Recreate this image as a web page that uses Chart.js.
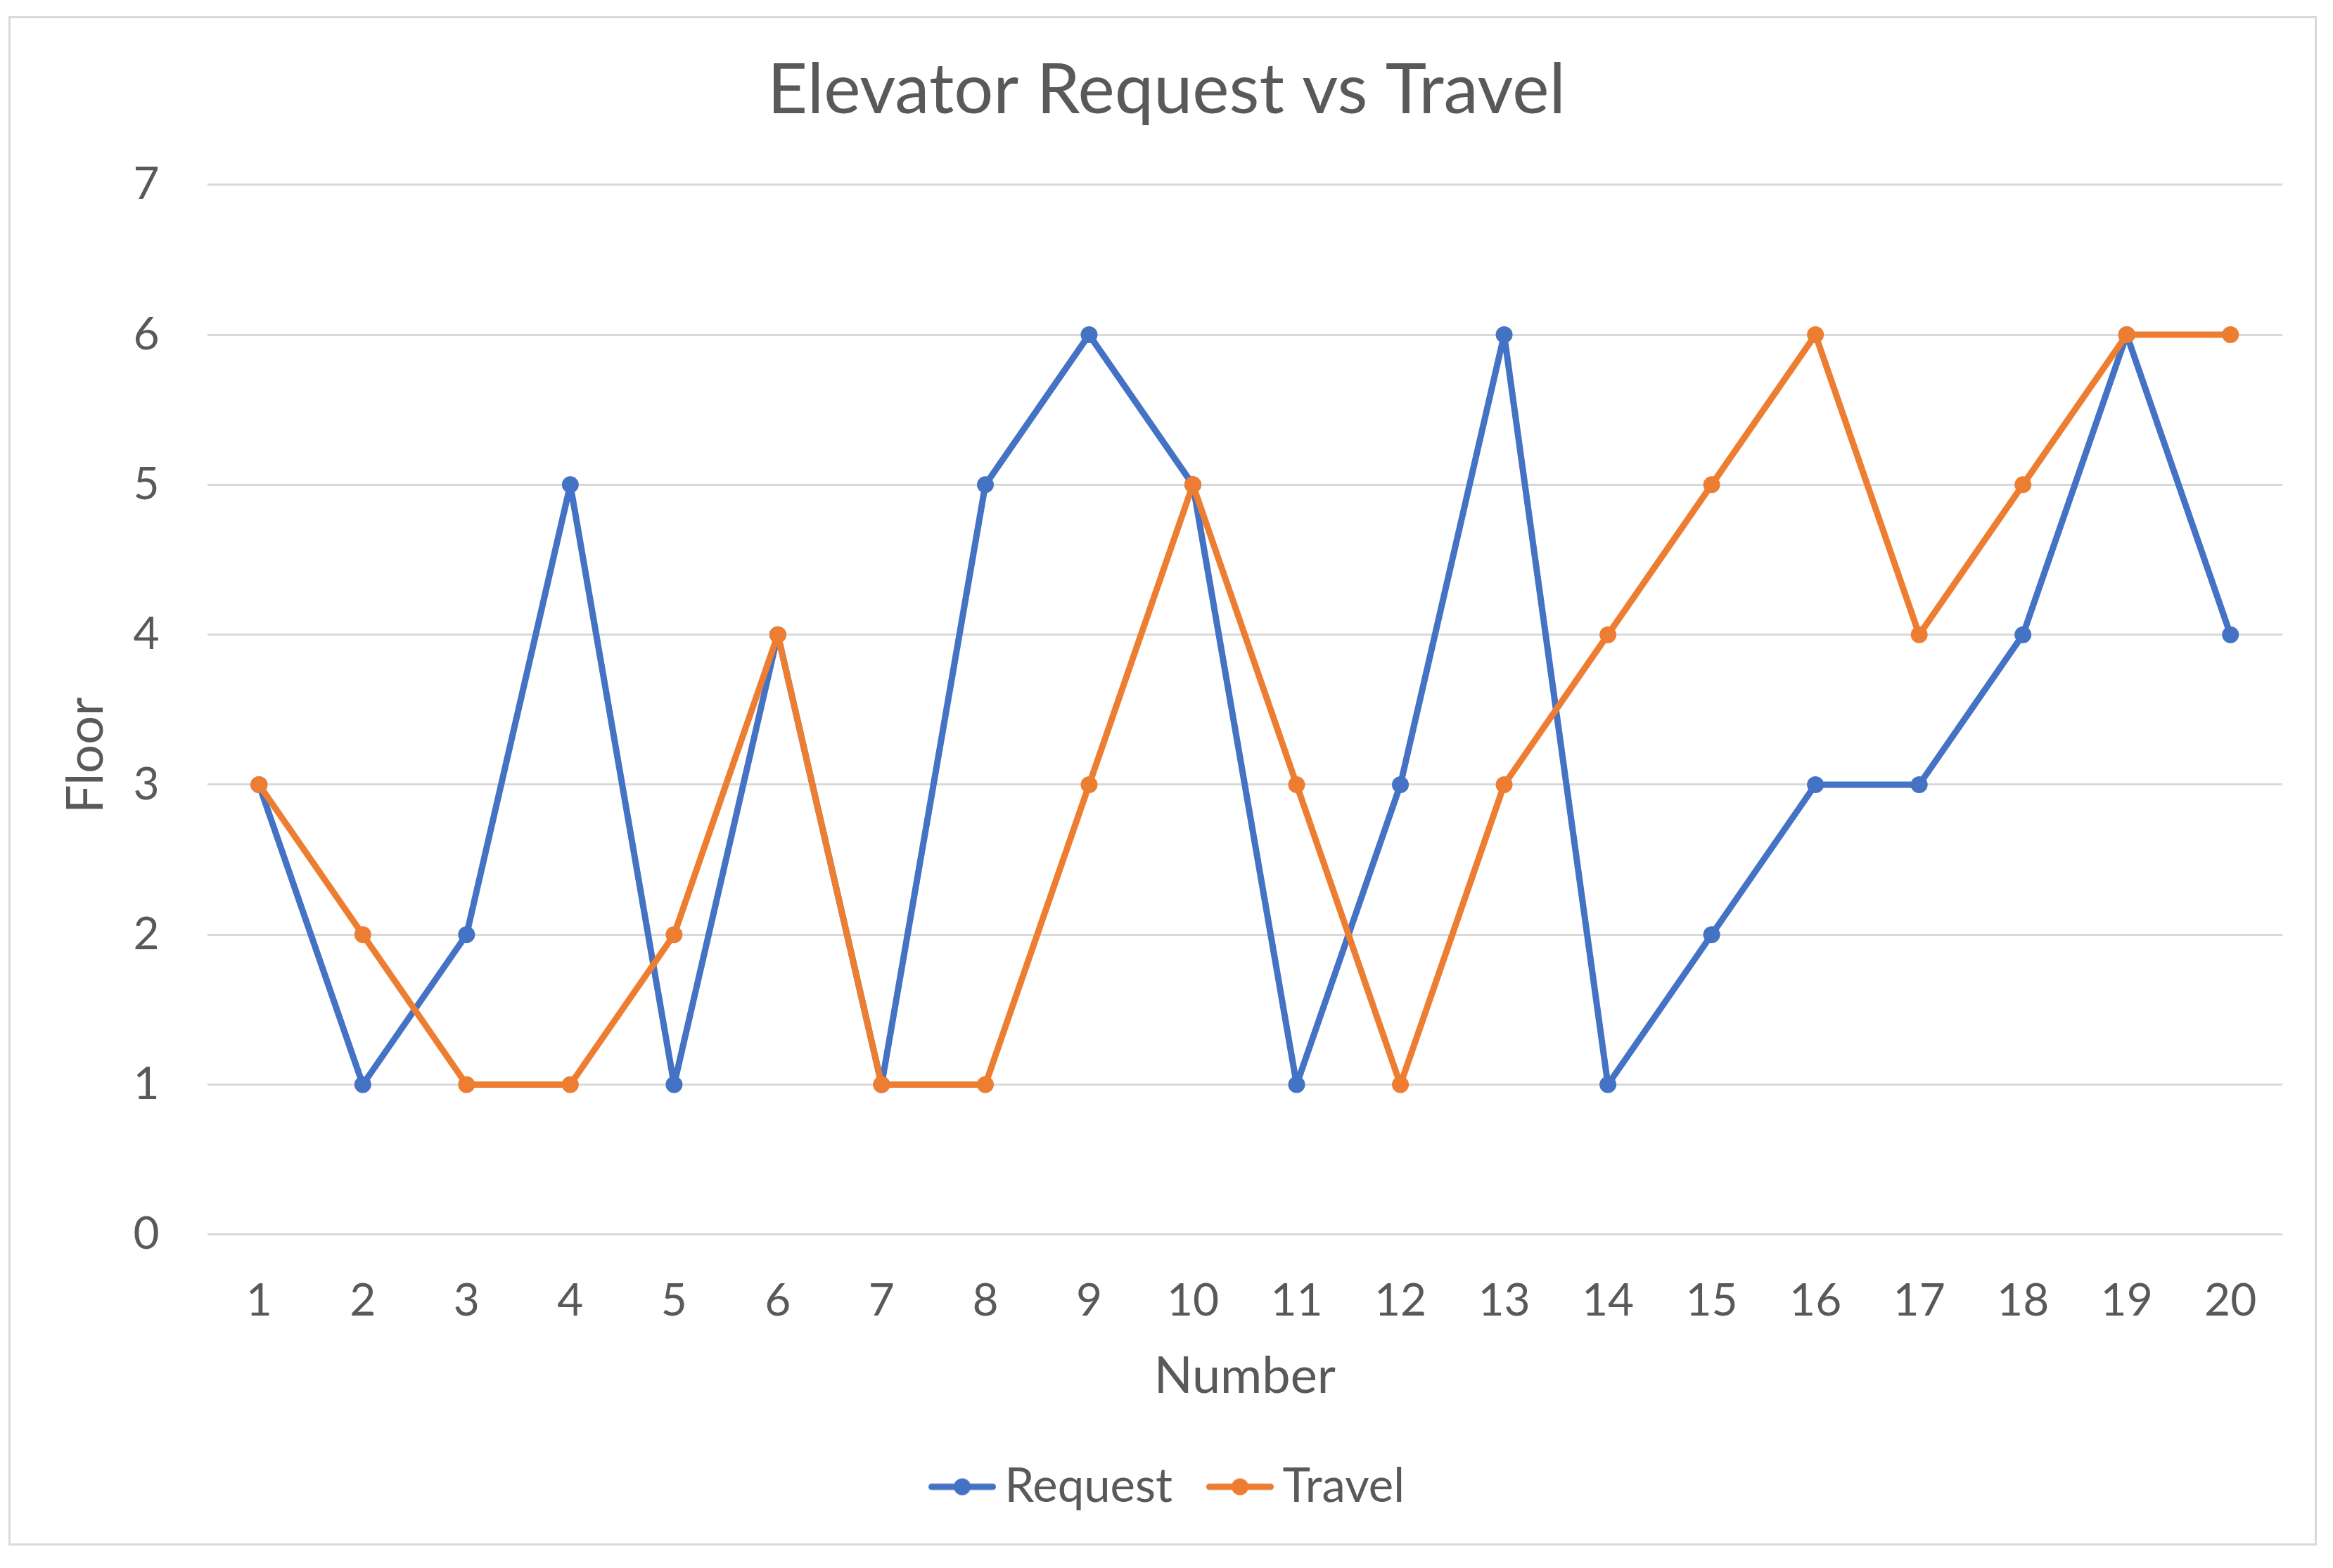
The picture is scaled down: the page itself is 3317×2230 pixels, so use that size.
<!DOCTYPE html>
<html>
<head>
<meta charset="utf-8">
<script src="https://cdn.jsdelivr.net/npm/chart.js@4/dist/chart.umd.min.js"></script>
<style>
  html, body { margin: 0; padding: 0; background: #ffffff; }
  #wrap { width: 3317px; height: 2230px; position: relative; }
</style>
</head>
<body>
<div id="wrap"><canvas id="c" width="3317" height="2230"></canvas></div>
<script>
const categories = ['1','2','3','4','5','6','7','8','9','10','11','12','13','14','15','16','17','18','19','20'];
const requestValues = [3, 1, 2, 5, 1, 4, 1, 5, 6, 5, 1, 3, 6, 1, 2, 3, 3, 4, 6, 4];
const travelValues  = [3, 2, 1, 1, 2, 4, 1, 1, 3, 5, 3, 1, 3, 4, 5, 6, 4, 5, 6, 6];
const yTicks = [0, 1, 2, 3, 4, 5, 6, 7];
const chartTitle = 'Elevator Request vs Travel';
const xTitle = 'Number';
const yTitle = 'Floor';

const BLUE = '#4472C4';
const ORANGE = '#ED7D31';
const TEXT = '#595959';
const GRID = '#D9D9D9';
const FONT = 'Lato';

function legendMarker(color) {
  const c = document.createElement('canvas');
  c.width = 117; c.height = 30;
  const g = c.getContext('2d');
  g.strokeStyle = color; g.lineWidth = 9; g.lineCap = 'round';
  g.beginPath(); g.moveTo(25.5, 15); g.lineTo(112.5, 15); g.stroke();
  g.fillStyle = color;
  g.beginPath(); g.arc(69, 15, 12, 0, Math.PI * 2); g.fill();
  return c;
}
const markers = [legendMarker(BLUE), legendMarker(ORANGE)];

const bgBorder = {
  id: 'bgBorder',
  beforeDraw(chart) {
    const ctx = chart.ctx;
    ctx.save();
    ctx.fillStyle = '#ffffff';
    ctx.fillRect(0, 0, chart.width, chart.height);
    ctx.strokeStyle = GRID;
    ctx.lineWidth = 3;
    ctx.strokeRect(13.5, 24.5, 3279, 2172);
    ctx.restore();
  }
};

new Chart(document.getElementById('c'), {
  type: 'line',
  data: {
    labels: categories,
    datasets: [
      {
        label: 'Request',
        data: requestValues,
        borderColor: BLUE,
        backgroundColor: BLUE,
        pointBackgroundColor: BLUE,
        pointBorderColor: BLUE,
        borderWidth: 9,
        borderJoinStyle: 'round',
        borderCapStyle: 'round',
        pointRadius: 12,
        pointBorderWidth: 0,
        tension: 0,
        order: 1
      },
      {
        label: 'Travel',
        data: travelValues,
        borderColor: ORANGE,
        backgroundColor: ORANGE,
        pointBackgroundColor: ORANGE,
        pointBorderColor: ORANGE,
        borderWidth: 9,
        borderJoinStyle: 'round',
        borderCapStyle: 'round',
        pointRadius: 12,
        pointBorderWidth: 0,
        tension: 0,
        order: 0
      }
    ]
  },
  options: {
    responsive: false,
    animation: false,
    devicePixelRatio: 1,
    layout: { padding: { left: 72, right: 72, top: 0, bottom: 72 } },
    plugins: {
      tooltip: { enabled: false },
      title: {
        display: true,
        text: chartTitle,
        color: TEXT,
        font: { family: FONT, size: 99, weight: 'normal', lineHeight: 1.2 },
        padding: { top: 70, bottom: 74 }
      },
      legend: {
        display: true,
        position: 'bottom',
        labels: {
          color: TEXT,
          font: { family: FONT, size: 67, lineHeight: 1.2 },
          usePointStyle: true,
          pointStyleWidth: 75,
          padding: 48,
          sort: (a, b) => a.datasetIndex - b.datasetIndex,
          generateLabels(chart) {
            const items = Chart.defaults.plugins.legend.labels.generateLabels(chart);
            items.forEach(it => { it.pointStyle = markers[it.datasetIndex]; });
            return items;
          }
        }
      }
    },
    scales: {
      x: {
        offset: true,
        grid: { display: false, drawTicks: false },
        border: { display: false },
        ticks: { color: TEXT, font: { family: FONT, size: 64 }, padding: 56, maxRotation: 0, autoSkip: false },
        title: {
          display: true, text: xTitle, color: TEXT,
          font: { family: FONT, size: 72, lineHeight: 1.2 },
          padding: { top: 26, bottom: 32 }
        },
        afterFit(scale) { scale.height -= 56; }
      },
      y: {
        min: 0,
        max: 7,
        afterBuildTicks(scale) { scale.ticks = yTicks.map(v => ({ value: v })); },
        grid: { color: GRID, lineWidth: 3, drawTicks: false },
        border: { display: false },
        ticks: { color: TEXT, font: { family: FONT, size: 64 }, padding: 68 },
        title: {
          display: true, text: yTitle, color: TEXT,
          font: { family: FONT, size: 72, lineHeight: 1.2 },
          padding: { top: 8, bottom: 23 }
        },
        afterFit(scale) { scale.width -= 68; },
        afterUpdate(scale) {
          if (scale._titleShifted) return;
          scale._titleShifted = true;
          const orig = scale.drawTitle;
          scale.drawTitle = function () {
            const t = this.top;
            this.top = t + 130;
            orig.call(this);
            this.top = t;
          };
        }
      }
    }
  },
  plugins: [bgBorder]
});
</script>
</body>
</html>
